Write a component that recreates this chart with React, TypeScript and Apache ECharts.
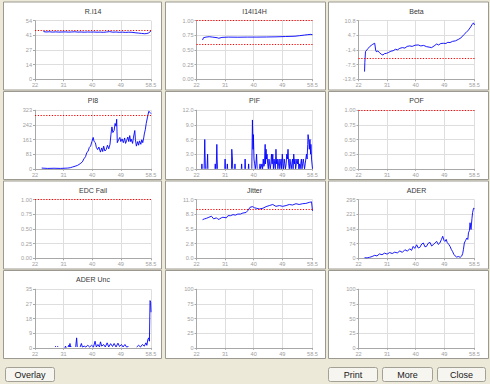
import React, { useEffect, useRef } from "react";
import * as echarts from "echarts";

// ---------- data ----------
const xTickValues = [22, 31, 40, 49, 58.5];
const X_MIN = 22;
const X_MAX = 58.5;

const panelTitles = ["R.I14", "I14I14H", "Beta", "PI8", "PIF", "POF", "EDC Fail", "Jitter", "ADER", "ADER Unc", "", ""];
const yMins = [0, 0, -13.6, 0, 0, 0, 0, 0, 0, 0, 0, 0];
const yMaxs = [54, 1, 10.8, 323, 12, 1, 1, 11, 295, 35.4, 100, 100];
const yTickLabels = [
  ["0", "14", "27", "41", "54"],
  ["0.00", "0.25", "0.50", "0.75", "1.00"],
  ["-13.6", "-7.5", "-1.4", "4.7", "10.8"],
  ["0", "81", "161", "242", "323"],
  ["0.0", "3.0", "6.0", "9.0", "12.0"],
  ["0.00", "0.25", "0.50", "0.75", "1.00"],
  ["0.00", "0.25", "0.50", "0.75", "1.00"],
  ["0.0", "2.8", "5.5", "8.3", "11.0"],
  ["0", "74", "148", "221", "295"],
  ["0", "9", "18", "27", "35"],
  ["0", "25", "50", "75", "100"],
  ["0", "25", "50", "75", "100"],
];
const thresholds = [[45.6], [1, 0.6], [-4.9], [294], [], [1], [1], [9.2], [], [], [], []];

const ri14 = [
  [24.6, 44.6], [24.8, 43.9], [25.5, 43.6], [26.5, 43.8], [27.5, 43.5], [28.5, 43.7], [29.5, 43.5], [30.5, 43.6],
  [31.5, 43.7], [32.5, 43.5], [33.5, 43.6], [34.5, 43.8], [35.5, 43.5], [36.5, 43.6], [37.5, 43.4], [38.5, 43.6],
  [39.5, 43.5], [40.5, 43.6], [41.5, 43.4], [42.5, 43.5], [43.5, 43.3], [44.5, 43.6], [45.5, 43.9], [46.5, 43.4],
  [47.5, 43.6], [48.5, 43.3], [49.5, 43.5], [50.5, 43.2], [51.5, 43.4], [52.5, 43.3], [53.5, 42.9], [54.5, 42.6],
  [55.5, 42.3], [56.5, 42.0], [57.2, 42.2], [57.8, 42.8], [58.2, 43.8], [58.5, 44.6],
];
const i14h = [
  [23.9, 0.67], [24.2, 0.71], [25, 0.72], [26, 0.727], [27, 0.72], [28.5, 0.71], [29, 0.70], [30, 0.715],
  [32, 0.72], [35, 0.718], [38, 0.72], [41, 0.72], [44, 0.722], [47, 0.725], [50, 0.73], [53, 0.735],
  [54.5, 0.745], [56, 0.755], [57, 0.762], [58, 0.767], [58.5, 0.76],
];
const beta = [
  [23.9, -10.4], [24.0, -6.5], [24.2, -2.1], [24.6, -1.4], [25.0, -0.8], [25.5, 0.0], [26.0, 0.5], [26.5, 1.0],
  [27.1, 1.4], [27.4, -1.4], [27.6, -2.1], [28.1, -1.8], [28.6, -2.5], [29.2, -3.2], [29.7, -3.5], [30.2, -2.9],
  [30.8, -2.8], [31.5, -2.4], [32.2, -1.9], [32.9, -1.7], [33.6, -1.1], [34.3, -1.3], [35.0, -0.7], [35.8, -0.4],
  [36.6, -0.6], [37.3, 0.1], [38.1, 0.3], [38.9, 0.1], [39.8, 0.6], [40.8, 0.7], [41.6, 0.3], [42.5, 0.5],
  [43.4, 0.0], [44.2, -0.2], [45.0, -0.4], [45.8, 0.3], [46.6, 1.1], [47.2, 0.7], [47.9, 1.3], [48.7, 1.4],
  [49.5, 1.3], [50.1, 1.8], [50.8, 1.7], [51.6, 2.2], [52.5, 2.4], [53.4, 3.0], [54.2, 3.6], [55.0, 4.8],
  [55.8, 5.8], [56.6, 6.9], [57.3, 8.2], [57.8, 9.3], [58.2, 9.9], [58.5, 9.0],
];
const pi8 = [
  [24.1, 4], [26, 2], [28, 3], [30, 2], [32.3, 4], [33.1, 6], [33.8, 10], [34.6, 14], [35.4, 19], [36.2, 28],
  [36.9, 38], [37.4, 55], [37.9, 67], [38.3, 90], [38.7, 96], [39.1, 118], [39.5, 125], [39.9, 150], [40.3, 173],
  [40.6, 150], [41.0, 144], [41.3, 118], [41.7, 106], [42.1, 120], [42.6, 92], [43.0, 115], [43.3, 95], [43.6, 125],
  [44.0, 98], [44.4, 106], [44.8, 130], [45.2, 110], [45.6, 135], [45.9, 190], [46.2, 231], [46.5, 200],
  [46.9, 211], [47.2, 250], [47.5, 235], [47.7, 273], [47.9, 144], [48.3, 160], [48.7, 173], [49.0, 150],
  [49.4, 165], [49.8, 144], [50.2, 170], [50.5, 140], [50.8, 154], [51.2, 175], [51.5, 150], [51.8, 183],
  [52.1, 150], [52.3, 163], [52.7, 140], [53.0, 175], [53.4, 211], [53.6, 160], [53.9, 125], [54.3, 150],
  [54.6, 130], [54.9, 154], [55.3, 135], [55.6, 160], [55.9, 144], [56.2, 170], [56.4, 192], [56.7, 215],
  [57.0, 250], [57.4, 285], [57.8, 317], [58.2, 311], [58.5, 304],
];
const pif = [
  [23.6, 0], [23.7, 1], [23.8, 0], [23.9, "-"],
  [24.4, 0], [24.6, 6], [24.7, 2.8], [24.8, 0], [24.9, "-"],
  [25.3, 0], [25.5, 3], [25.6, 0], [25.7, "-"],
  [27.8, 0], [27.9, 1], [28.0, 0], [28.1, "-"],
  [28.2, 0], [28.4, 5], [28.5, 2], [28.6, 0], [28.7, "-"],
  [30.9, 0], [31.0, 2], [31.1, 0], [31.2, "-"],
  [31.6, 0], [31.7, 1], [31.8, 0], [31.9, "-"],
  [33.0, 0], [33.1, 4], [33.3, 2], [33.4, 0], [33.5, "-"],
  [34.0, 0], [34.1, 1], [34.2, 0], [34.3, "-"],
  [36.1, 0], [36.2, 1], [36.3, 0], [36.4, "-"],
  [37.2, 0], [37.3, 2], [37.4, 0], [37.5, "-"],
  [38.3, 0], [38.4, 1], [38.5, 0], [38.6, "-"],
  [39.4, 0], [39.6, 10], [39.8, 4], [39.9, 7], [40.1, 2], [40.3, 1], [40.5, 0], [40.7, 1], [40.9, 3], [41.1, 0],
  [41.2, "-"],
  [41.8, 0], [42.0, 1], [42.2, 0], [42.4, 0], [42.6, 1], [42.8, 0], [43.0, 2], [43.2, 0.5], [43.4, 1], [43.6, 5],
  [43.7, 1], [43.9, 4], [44.0, 2], [44.2, 3], [44.4, 1], [44.6, 0], [44.8, 2], [45.0, 1], [45.2, 0], [45.4, 1],
  [45.6, 3], [45.8, 1], [46.0, 3], [46.2, 0], [46.4, 2], [46.6, 1], [46.8, 0], [47.0, 4], [47.2, 1], [47.4, 2],
  [47.6, 0], [47.8, 1], [48.0, 2], [48.2, 0], [48.4, 1], [48.6, 2], [48.8, 0], [49.0, 3], [49.2, 1], [49.4, 0],
  [49.6, 2], [49.8, 1], [50.0, 0], [50.2, 1], [50.4, 3], [50.6, 2], [50.8, 4], [51.0, 1], [51.2, 0], [51.4, 2],
  [51.6, 1], [51.8, 0], [52.0, 1], [52.2, 2], [52.4, 0], [52.6, 3], [52.8, 1], [53.0, 2], [53.2, 0], [53.4, 1],
  [53.6, 2], [53.8, 1], [54.0, 2], [54.2, 0], [54.4, 1], [54.6, 0], [54.8, 1], [55.0, 2], [55.2, 0], [55.4, 1],
  [55.6, 2], [55.8, 1], [56.0, 0], [56.2, 1], [56.4, 2], [56.6, 3], [56.8, 2], [57.0, 5], [57.1, 7], [57.3, 6],
  [57.5, 4], [57.7, 6], [57.9, 3], [58.0, 5], [58.2, 2], [58.4, 2], [58.5, 0],
];
const jitter = [
  [23.9, 7.25], [24.5, 7.4], [25.1, 7.5], [25.9, 7.7], [26.7, 7.9], [27.4, 7.4], [28.3, 7.6], [28.8, 7.3],
  [29.3, 7.4], [29.8, 7.6], [30.3, 7.7], [31.4, 7.6], [31.9, 8.0], [32.7, 8.0], [33.5, 8.2], [34.2, 8.1],
  [35.0, 8.3], [35.8, 8.3], [36.6, 8.5], [37.6, 8.6], [38.2, 9.0], [38.9, 9.6], [39.7, 9.7], [40.2, 9.5],
  [40.8, 9.4], [41.8, 9.25], [42.9, 9.4], [43.9, 9.7], [44.9, 9.9], [46.0, 10.1], [47.0, 9.75], [48.1, 9.9],
  [49.1, 9.75], [50.2, 9.9], [51.2, 10.1], [52.2, 10.0], [53.3, 10.25], [54.3, 10.1], [55.4, 10.25],
  [56.4, 10.3], [57.5, 10.5], [58.2, 10.6], [58.5, 8.9],
];
const ader = [
  [23.9, 3], [24.7, 2], [25.5, 5], [26.3, 9], [27.1, 15], [27.8, 12], [28.6, 22], [29.4, 18], [30.2, 26],
  [31.0, 21], [31.8, 29], [32.6, 24], [33.4, 31], [34.2, 27], [35.0, 37], [35.8, 30], [36.6, 43], [37.4, 36],
  [38.1, 48], [38.7, 40], [39.2, 60], [39.7, 50], [40.3, 68], [40.8, 52], [41.3, 55], [41.9, 72], [42.4, 77],
  [42.9, 58], [43.4, 60], [43.9, 75], [44.5, 80], [45.0, 62], [45.5, 68], [46.1, 78], [46.6, 85], [47.1, 70],
  [47.6, 77], [48.1, 95], [48.5, 111], [48.9, 90], [49.2, 85], [49.6, 95], [49.9, 80], [50.4, 70], [50.8, 60],
  [51.2, 45], [51.6, 34], [52.0, 20], [52.4, 12], [52.9, 6], [53.4, 9], [54.0, 5], [54.5, 12], [54.8, 25],
  [55.0, 43], [55.3, 77], [55.7, 90], [56.1, 102], [56.4, 95], [56.6, 128], [56.9, 140], [57.1, 179],
  [57.4, 145], [57.7, 200], [57.9, 230], [58.2, 252], [58.5, 250],
];
const aderUnc = [
  [28.3, 0.8], [28.6, 0.8], [28.7, "-"], [29.0, 0.8], [29.3, 0.8], [29.4, "-"],
  [31.4, 0], [31.6, 1], [31.8, 0], [31.9, "-"],
  [32.4, 0.5], [32.6, 1.5], [32.8, 0.5], [33.0, 2.6], [33.2, 0.5], [33.4, 1], [33.5, "-"],
  [34.8, 0.5], [35.1, 6], [35.3, 0.5], [35.4, "-"],
  [36.2, 0.5], [36.6, 2.6], [36.9, 0.5], [37.5, 1], [38.0, 0.5], [38.6, 1.5], [39.2, 0.5], [39.8, 1.5],
  [40.4, 0.5], [40.9, 4], [41.3, 0.5], [41.8, 2], [42.3, 0.5], [42.6, 3.6], [43.0, 1], [43.6, 2], [44.1, 0.5],
  [44.7, 3], [45.2, 0.5], [45.8, 2.5], [46.4, 0.8], [46.9, 2.6], [47.5, 0.5], [48.1, 2.8], [48.6, 0.8],
  [49.2, 2], [49.7, 0.5], [50.3, 2], [50.8, 0.5], [51.4, 0.8], [51.5, "-"],
  [54.0, 0.5], [54.6, 1.5], [55.2, 0.5], [55.8, 2], [56.4, 1], [56.9, 3], [57.2, 1.5], [57.5, 5], [57.8, 6],
  [58.0, 4], [58.2, 28.5], [58.4, 27.5], [58.5, 21.5],
];

const panelSeries: any[] = [ri14, i14h, beta, pi8, pif, null, null, jitter, ader, aderUnc, null, null];
const buttonLabels = ["Overlay", "Print", "More", "Close"];

// ---------- layout (styles) ----------
const COL_PLOT_LEFT = [35, 196.5, 358.5];
const PLOT_W = 116;
const PLOT_TOP0 = 20.7;
const ROW_PITCH = 89.5;
const PLOT_H = 58.6;
const PANEL_X = [3, 165, 328];
const PANEL_W = [158, 160, 160];
const PANEL_TOP0 = 1.5;
const PANEL_H = 88;
const BUTTONS = [
  { x: 5, w: 49 },
  { x: 328, w: 49 },
  { x: 382, w: 50 },
  { x: 437, w: 48 },
];
const FONT = "Liberation Sans, Arial, sans-serif";

function yValues(i: number) {
  const mn = yMins[i], mx = yMaxs[i];
  return [0, 1, 2, 3, 4].map((k) => (k === 0 ? mn : k === 4 ? mx : mn + ((mx - mn) * k) / 4));
}

export default function App() {
  const ref = useRef<HTMLDivElement>(null);
  useEffect(() => {
    if (!ref.current) return;
    const chart = echarts.init(ref.current, undefined, { renderer: "svg" });
    const grids: any[] = [];
    const xAxes: any[] = [];
    const yAxes: any[] = [];
    const series: any[] = [];
    const graphics: any[] = [];

    for (let i = 0; i < 12; i++) {
      const col = i % 3;
      const row = Math.floor(i / 3);
      const top = PLOT_TOP0 + row * ROW_PITCH;
      grids.push({ left: COL_PLOT_LEFT[col], top, width: PLOT_W, height: PLOT_H, containLabel: false });
      xAxes.push({
        type: "value",
        gridIndex: i,
        min: X_MIN,
        max: X_MAX,
        axisLine: { show: true, onZero: false, lineStyle: { color: "#a8a8a8", width: 1 } },
        axisTick: { show: true, length: 2, lineStyle: { color: "#a8a8a8" }, customValues: xTickValues },
        axisLabel: {
          customValues: xTickValues,
          fontSize: 5.6,
          color: "#a0a0a0",
          fontFamily: FONT,
          margin: 3,
          formatter: (v: number) => String(v),
        },
        splitLine: { show: true, lineStyle: { color: "#dedede", width: 1 } },
      });
      const yv = yValues(i);
      const mn = yMins[i], mx = yMaxs[i];
      yAxes.push({
        type: "value",
        gridIndex: i,
        min: mn,
        max: mx,
        axisLine: { show: true, onZero: false, lineStyle: { color: "#a8a8a8", width: 1 } },
        axisTick: { show: true, length: 2, lineStyle: { color: "#a8a8a8" }, customValues: yv },
        axisLabel: {
          customValues: yv,
          fontSize: 5.6,
          color: "#a0a0a0",
          fontFamily: FONT,
          margin: 3,
          formatter: (v: number) => yTickLabels[i][Math.round(((v - mn) / (mx - mn)) * 4)] ?? "",
        },
        splitLine: { show: true, lineStyle: { color: "#dedede", width: 1 } },
      });
      series.push({
        type: "line",
        xAxisIndex: i,
        yAxisIndex: i,
        data: panelSeries[i] || [],
        showSymbol: false,
        symbol: "none",
        connectNulls: false,
        lineStyle: { color: "#0000ff", width: 0.9 },
        itemStyle: { color: "#0000ff" },
        silent: true,
        markLine: thresholds[i].length
          ? {
              silent: true,
              symbol: ["none", "none"],
              label: { show: false },
              lineStyle: { color: "#ff0000", type: [1.2, 1.6], width: 1.2, opacity: 1 },
              data: thresholds[i].map((t) => ({ yAxis: t })),
            }
          : undefined,
      });

      // panel background
      const py = PANEL_TOP0 + row * ROW_PITCH;
      graphics.push({
        type: "rect",
        z: -10,
        silent: true,
        shape: { x: PANEL_X[col] + 0.5, y: py + 0.5, width: PANEL_W[col], height: PANEL_H },
        style: { fill: "#ffffff", stroke: "#9c9a90", lineWidth: 1 },
      });
      if (panelTitles[i]) {
        graphics.push({
          type: "text",
          silent: true,
          x: COL_PLOT_LEFT[col] + PLOT_W / 2,
          y: py + 9.5,
          style: {
            text: panelTitles[i],
            fill: "#383838",
            font: `7px ${FONT}`,
            textAlign: "center",
            textVerticalAlign: "middle",
          },
        });
      }
    }

    BUTTONS.forEach((b, k) => {
      graphics.push({
        type: "rect",
        silent: true,
        shape: { x: b.x + 0.5, y: 367.5, width: b.w, height: 14, r: 2 },
        style: { fill: "#f6f5f0", stroke: "#a3a196", lineWidth: 1 },
      });
      graphics.push({
        type: "text",
        silent: true,
        x: b.x + b.w / 2 + 0.5,
        y: 374.5,
        style: {
          text: buttonLabels[k],
          fill: "#202020",
          font: `9px ${FONT}`,
          textAlign: "center",
          textVerticalAlign: "middle",
        },
      });
    });

    chart.setOption({
      animation: false,
      backgroundColor: "#ece9d8",
      grid: grids,
      xAxis: xAxes,
      yAxis: yAxes,
      series,
      graphic: { elements: graphics },
    });
    return () => chart.dispose();
  }, []);
  return <div ref={ref} style={{ position: "fixed", left: 0, top: 0, width: 490, height: 384 }} />;
}
